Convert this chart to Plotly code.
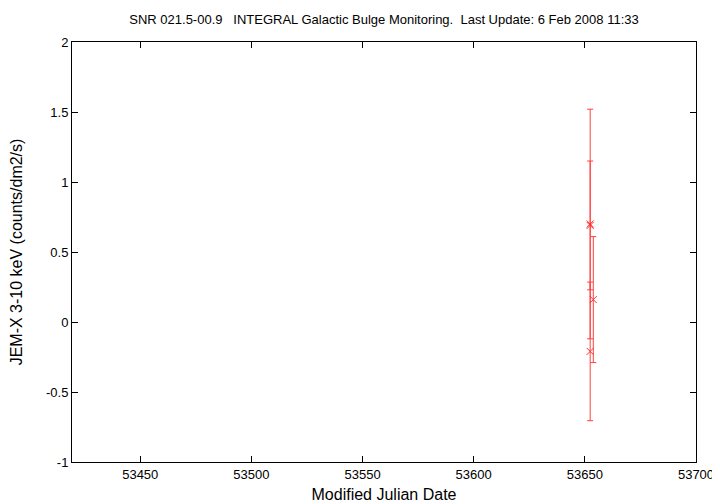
import plotly.graph_objects as go

mjd = [53652.4, 53652.4, 53652.4, 53653.8]
flux = [0.70, 0.69, -0.21, 0.16]
err = [0.82, 0.46, 0.495, 0.45]

x_ticks = [53450, 53500, 53550, 53600, 53650, 53700]
y_ticks = [-1, -0.5, 0, 0.5, 1, 1.5, 2]
y_labels = ["-1", "-0.5", "0", "0.5", "1", "1.5", "2"]

title = "SNR 021.5-00.9\u00a0\u00a0\u00a0INTEGRAL Galactic Bulge Monitoring.\u00a0\u00a0Last Update: 6 Feb 2008 11:33"

# page body has an 8px default margin, so the figure is drawn from (8, 8)
W, H = 712, 496

fig = go.Figure()
fig.add_trace(go.Scatter(
    x=mjd, y=flux, mode="markers",
    marker=dict(symbol="x-thin-open", size=7, color="#ff3030",
                line=dict(color="#ff3030", width=1)),
    error_y=dict(type="data", array=err, visible=True, color="#ff4040",
                 thickness=1, width=3),
    showlegend=False,
))

font = dict(family="Liberation Sans, Arial, sans-serif", size=13, color="black")
fig.update_layout(
    width=W, height=H,
    margin=dict(l=64, r=24, t=34, b=42, autoexpand=False),
    paper_bgcolor="white", plot_bgcolor="white",
    font=font,
    title=dict(text=title, x=0.5, xref="paper", y=1 - 11 / H, yref="container",
               yanchor="middle", xanchor="center", font=font, automargin=False),
)
fig.update_xaxes(
    range=[53419.3, 53700], tickvals=x_ticks, ticktext=[str(v) for v in x_ticks],
    ticks="inside", ticklen=6, tickcolor="black", mirror="ticks",
    showline=True, linecolor="black", linewidth=1, showgrid=False, zeroline=False,
    automargin=False,
    title=dict(text="Modified Julian Date", standoff=8),
)
fig.update_yaxes(
    range=[-1, 2], tickvals=y_ticks, ticktext=y_labels,
    ticks="inside", ticklen=6, tickcolor="black", mirror="ticks",
    showline=True, linecolor="black", linewidth=1, showgrid=False, zeroline=False,
    automargin=False,
    title=dict(text="JEM-X 3-10 keV (counts/dm2/s)", standoff=24),
)
fig.write_html("out.html")
